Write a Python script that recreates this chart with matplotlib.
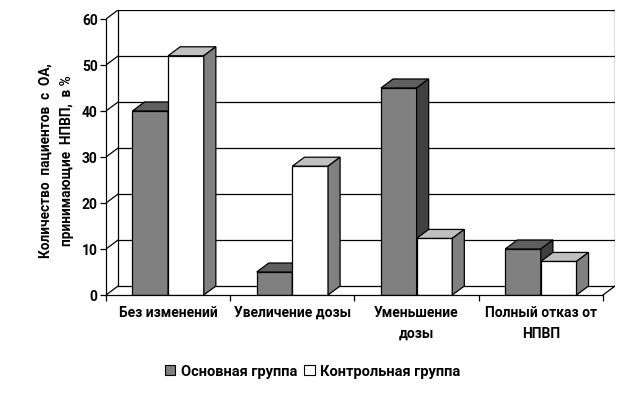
import matplotlib
matplotlib.use("Agg")
import matplotlib.pyplot as plt
from matplotlib.patches import Polygon, Patch

plt.rcParams['font.family'] = ['Roboto', 'Liberation Sans', 'DejaVu Sans']
plt.rcParams['font.weight'] = 'bold'

# data (percent of patients)
categories = ["Без изменений", "Увеличение дозы", "Уменьшение\nдозы", "Полный отказ от\nНПВП"]
main_group = [40, 5, 45, 10]
control_group = [52, 28, 12.3, 7.3]
series_names = ["Основная группа", "Контрольная группа"]
y_ticks = [0, 10, 20, 30, 40, 50, 60]

# colours for front / top / side faces
main_colors = ("#808080", "#5f5f5f", "#404040")
ctrl_colors = ("#ffffff", "#c0c0c0", "#808080")

# fake 3d depth in data units
DX = 0.097
DY = 1.95
bar_w = 0.287

fig = plt.figure(figsize=(6.33, 4.02), dpi=100)
ax = fig.add_axes([0.1675, 0.2637, 0.8041, 0.709])
ax.set_xlim(0, 4 + DX)
ax.set_ylim(0, 60 + DY)

lw = 0.9
# back wall + gridlines
for v in y_ticks:
    ax.plot([DX, 4 + DX], [v + DY, v + DY], color="black", lw=lw, zorder=1)
    ax.plot([0, DX], [v, v + DY], color="black", lw=lw, zorder=1)
ax.plot([DX, DX], [DY, 60 + DY], color="black", lw=lw, zorder=1)
ax.plot([4 + DX, 4 + DX], [DY, 60 + DY], color="black", lw=lw, zorder=1)
ax.plot([4, 4 + DX], [0, DY], color="black", lw=lw, zorder=1)


def draw_bar(x0, h, cols, z):
    front = [(x0, 0), (x0 + bar_w, 0), (x0 + bar_w, h), (x0, h)]
    top = [(x0, h), (x0 + bar_w, h), (x0 + bar_w + DX, h + DY), (x0 + DX, h + DY)]
    side = [(x0 + bar_w, 0), (x0 + bar_w + DX, DY), (x0 + bar_w + DX, h + DY), (x0 + bar_w, h)]
    for pts, c in zip((front, top, side), cols):
        ax.add_patch(Polygon(pts, closed=True, facecolor=c, edgecolor="black",
                             lw=lw, zorder=z, joinstyle="miter"))


z = 3
for i in range(len(categories)):
    center = i + 0.5
    draw_bar(center - bar_w, main_group[i], main_colors, z)
    z += 1
    draw_bar(center, control_group[i], ctrl_colors, z)
    z += 1

for s in ("top", "right"):
    ax.spines[s].set_visible(False)
ax.spines["left"].set_bounds(0, 60)
ax.spines["bottom"].set_bounds(0, 4)
ax.spines["left"].set_linewidth(lw)
ax.spines["bottom"].set_linewidth(lw)
ax.spines["left"].set_zorder(50)
ax.spines["bottom"].set_zorder(50)

ax.set_yticks(y_ticks)
ax.tick_params(axis="y", direction="out", length=4, width=lw, pad=2, labelsize=10)
ax.set_xticks([0, 1, 2, 3, 4])
ax.set_xticklabels([])
ax.tick_params(axis="x", which="major", direction="out", length=4, width=lw)
ax.set_xticks([0.5, 1.5, 2.5, 3.5], minor=True)
ax.set_xticklabels(categories, minor=True, fontsize=10, linespacing=1.65)
ax.tick_params(axis="x", which="minor", length=0, pad=7)
for lab in ax.get_yticklabels() + ax.get_xticklabels(minor=True):
    lab.set_fontweight("bold")

fig.text(0.089, 0.60, "Количество  пациентов  с  ОА,\nпринимающие  НПВП,  в %",
         rotation=90, ha="center", va="center", fontsize=9.8, fontweight="bold",
         linespacing=1.7)

handles = [Patch(facecolor=main_colors[0], edgecolor="black", lw=0.8),
           Patch(facecolor="white", edgecolor="black", lw=0.8)]
fig.legend(handles, series_names, loc="center", bbox_to_anchor=(0.494, 0.075),
           ncol=2, frameon=False, handlelength=0.7, handleheight=0.7,
           handletextpad=0.4, columnspacing=0.5, prop={"weight": "bold", "size": 10.5})

fig.savefig("out.png", dpi=100)
